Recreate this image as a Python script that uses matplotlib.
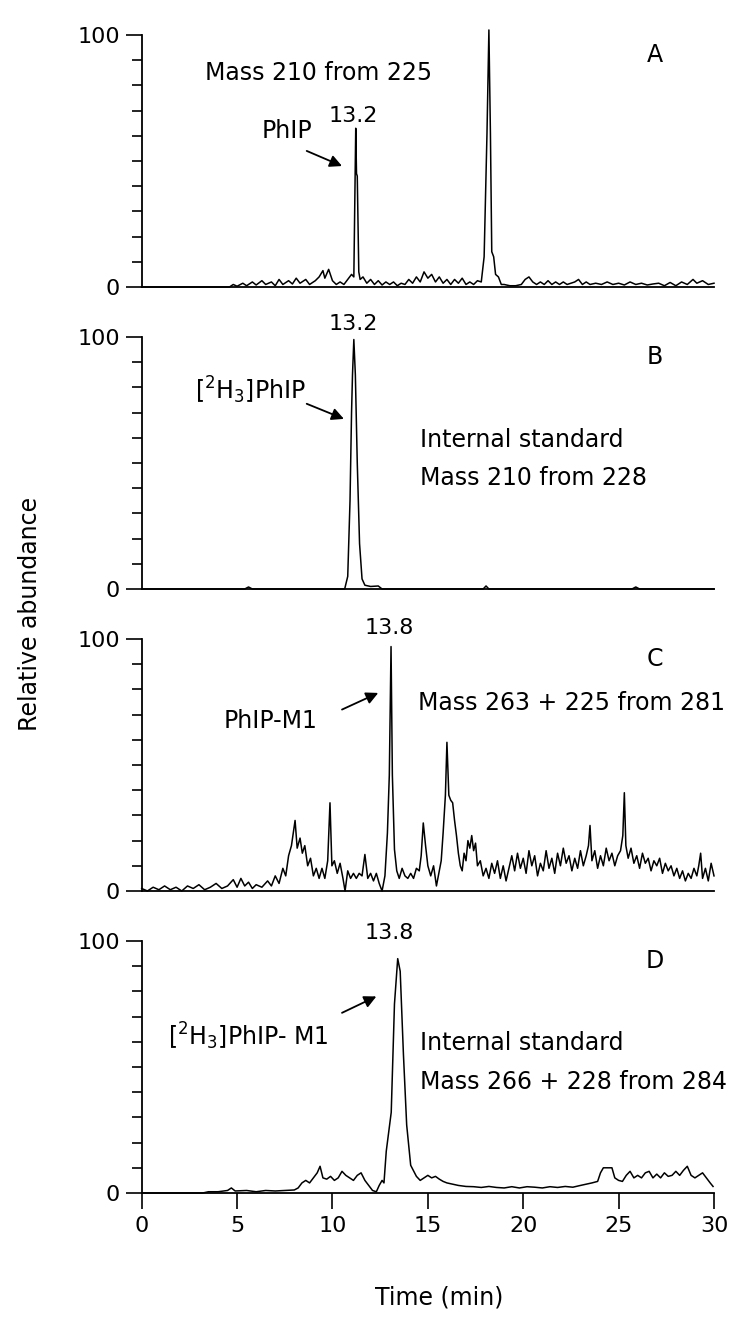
import numpy as np
import matplotlib.pyplot as plt
from matplotlib.ticker import MultipleLocator, FixedLocator

plt.rcParams["font.family"] = ["DejaVu Sans"]

# Selected-reaction chromatograms, (retention time min, relative abundance %)
trace_a = [(0, 0), (4.6, 0), (4.8, 1), (5.0, 0.3), (5.3, 1.5), (5.5, 0.5), (5.8, 2), (6.0, 0.8),
           (6.3, 2.5), (6.5, 1), (6.8, 2), (7.0, 0.5), (7.2, 3), (7.4, 1), (7.7, 2.5), (7.9, 1.2),
           (8.1, 3.5), (8.3, 1.5), (8.6, 3), (8.8, 1), (9.1, 2.5), (9.3, 4), (9.5, 6.5), (9.6, 3.5),
           (9.8, 7), (10.0, 2.5), (10.2, 1), (10.4, 2), (10.6, 1), (10.8, 3), (11.0, 5),
           (11.12, 4), (11.22, 63), (11.26, 45), (11.30, 44), (11.38, 6), (11.45, 3), (11.6, 4),
           (11.8, 1.5), (12.0, 3), (12.2, 1), (12.4, 2.5), (12.6, 0.8), (12.8, 2), (13.0, 1),
           (13.2, 2), (13.4, 0.5), (13.6, 1.5), (13.8, 1), (14.0, 3), (14.2, 1.5), (14.4, 4),
           (14.6, 2), (14.8, 6), (15.0, 3.5), (15.2, 5), (15.4, 2), (15.6, 4), (15.8, 1.5),
           (16.0, 3), (16.2, 1), (16.4, 3), (16.6, 1.5), (16.8, 3.5), (17.0, 1), (17.2, 2),
           (17.4, 1), (17.6, 2.5), (17.8, 2), (17.95, 12), (18.1, 61), (18.2, 102), (18.28, 61),
           (18.35, 14), (18.45, 12), (18.55, 5), (18.7, 4), (18.85, 1), (19.0, 1), (19.3, 0.5),
           (19.6, 0.5), (19.9, 1), (20.1, 3), (20.3, 4), (20.5, 2), (20.7, 1), (20.9, 2),
           (21.1, 1), (21.3, 2.5), (21.5, 1), (21.7, 2), (21.9, 1), (22.1, 2), (22.3, 1),
           (22.5, 1.5), (22.7, 2), (22.9, 3), (23.1, 1), (23.3, 2), (23.5, 1), (23.8, 1.5),
           (24.1, 1), (24.4, 2), (24.7, 1), (25.0, 1.5), (25.3, 0.8), (25.6, 2), (25.9, 1),
           (26.2, 1.5), (26.5, 0.8), (26.8, 1.2), (27.1, 1.5), (27.4, 0.5), (27.7, 1.8),
           (28.0, 0.5), (28.3, 2), (28.6, 1), (28.9, 3), (29.1, 1.5), (29.4, 2.5), (29.7, 1),
           (30.0, 1.5)]

trace_b = [(0, 0), (5.4, 0), (5.6, 0.8), (5.8, 0), (10.64, 0), (10.8, 5), (10.92, 35),
           (11.0, 70), (11.05, 85), (11.12, 99), (11.2, 85), (11.3, 50), (11.42, 18),
           (11.55, 4), (11.7, 1.5), (12.0, 1), (12.4, 1.2), (12.6, 0), (17.9, 0), (18.05, 1.2),
           (18.2, 0), (25.7, 0), (25.9, 0.8), (26.1, 0), (30.0, 0)]

trace_c = [(0.0, 1), (0.3, 0), (0.6, 1.5), (0.9, 0.5), (1.2, 2), (1.5, 0.5), (1.8, 1.5),
           (2.1, 0), (2.4, 2), (2.7, 1), (3.0, 2.5), (3.3, 0.5), (3.6, 1.5), (3.9, 3), (4.2, 1),
           (4.5, 2), (4.8, 4.5), (5.0, 1.5), (5.2, 5), (5.4, 2), (5.6, 3.5), (5.8, 1), (6.0, 2.5),
           (6.3, 1.5), (6.6, 4), (6.8, 2), (7.0, 6), (7.2, 3), (7.4, 9), (7.55, 6), (7.7, 14),
           (7.85, 18), (8.04, 28), (8.15, 17), (8.3, 21), (8.42, 15), (8.55, 18), (8.7, 10),
           (8.85, 13), (9.0, 6), (9.15, 9), (9.3, 5), (9.45, 9), (9.6, 5), (9.75, 12),
           (9.87, 35), (9.97, 10), (10.1, 12), (10.25, 7), (10.4, 11), (10.55, 5), (10.66, 0),
           (10.8, 8), (10.95, 5), (11.1, 7), (11.25, 5), (11.4, 7), (11.55, 6), (11.7, 14.5),
           (11.85, 5), (12.0, 7), (12.15, 4), (12.3, 7), (12.45, 3), (12.6, 0), (12.75, 6),
           (12.88, 23), (12.98, 46), (13.07, 97), (13.14, 46), (13.25, 16.5), (13.37, 8),
           (13.5, 5), (13.65, 9), (13.8, 6), (13.95, 5), (14.1, 7), (14.25, 5), (14.4, 9),
           (14.55, 8), (14.65, 14), (14.76, 27), (14.88, 18), (15.0, 10), (15.15, 6), (15.3, 10),
           (15.45, 2), (15.6, 8), (15.7, 12), (15.8, 23), (15.92, 38), (16.0, 59),
           (16.1, 38), (16.2, 36), (16.3, 35), (16.4, 28), (16.5, 22), (16.6, 15), (16.7, 10),
           (16.8, 8), (16.9, 15), (17.0, 12), (17.1, 20), (17.2, 17), (17.3, 22), (17.4, 16),
           (17.5, 19), (17.6, 10), (17.75, 12), (17.9, 6), (18.05, 9), (18.2, 5), (18.35, 11),
           (18.5, 7), (18.65, 12), (18.8, 5), (18.95, 10), (19.1, 4), (19.25, 9), (19.4, 14),
           (19.55, 8), (19.7, 15), (19.85, 9), (20.0, 13), (20.15, 7), (20.3, 16), (20.45, 10),
           (20.6, 14), (20.75, 6), (20.9, 11), (21.05, 8), (21.2, 16), (21.35, 9), (21.5, 13),
           (21.65, 7), (21.8, 15), (21.95, 10), (22.1, 17), (22.25, 11), (22.4, 14), (22.55, 8),
           (22.7, 13), (22.85, 9), (23.0, 16), (23.15, 10), (23.3, 14), (23.42, 18), (23.5, 26),
           (23.6, 12), (23.75, 16), (23.9, 9), (24.05, 14), (24.2, 10), (24.35, 17), (24.5, 12),
           (24.65, 15), (24.8, 10), (24.95, 14), (25.1, 16), (25.22, 22), (25.3, 39),
           (25.38, 18), (25.5, 13), (25.65, 17), (25.8, 11), (25.95, 14), (26.1, 9), (26.25, 15),
           (26.4, 11), (26.55, 13), (26.7, 8), (26.85, 12), (27.0, 10), (27.15, 13), (27.3, 7),
           (27.45, 11), (27.6, 8), (27.75, 10), (27.9, 6), (28.05, 9), (28.2, 5), (28.35, 8),
           (28.5, 4), (28.65, 7), (28.8, 5), (28.95, 9), (29.1, 6), (29.2, 10), (29.3, 15),
           (29.4, 5), (29.55, 9), (29.7, 4), (29.85, 11), (30.0, 6)]

trace_d = [(0, 0), (3.2, 0), (3.5, 0.5), (4.0, 0.5), (4.5, 1), (4.7, 2), (4.9, 0.8), (5.5, 1),
           (6.0, 0.5), (6.5, 1), (7.0, 0.8), (7.5, 1), (8.0, 1.2), (8.2, 2), (8.4, 4), (8.6, 5),
           (8.8, 4), (9.0, 6), (9.2, 8), (9.35, 10.6), (9.5, 6), (9.7, 5.5), (9.9, 6.6),
           (10.1, 5), (10.3, 6), (10.5, 8.6), (10.7, 7), (10.9, 6), (11.1, 5), (11.3, 7),
           (11.5, 8), (11.7, 5), (11.9, 3), (12.1, 1), (12.3, 0.5), (12.45, 3), (12.6, 5),
           (12.7, 4), (12.82, 16.6), (13.08, 32), (13.25, 75), (13.42, 93), (13.55, 88),
           (13.72, 55), (13.89, 27), (14.1, 11), (14.4, 6.6), (14.6, 5), (14.8, 6), (15.0, 7),
           (15.2, 6), (15.4, 6.6), (15.6, 5.5), (15.8, 4.6), (16.0, 4), (16.3, 3.5), (16.6, 3),
           (17.0, 2.6), (17.4, 2.5), (17.8, 2.2), (18.2, 2.6), (18.6, 2.2), (19.0, 2),
           (19.4, 2.5), (19.8, 2), (20.2, 2.5), (20.6, 2.3), (21.0, 2), (21.4, 2.5), (21.8, 2.2),
           (22.2, 2.6), (22.6, 2.3), (23.0, 3), (23.3, 3.5), (23.6, 4), (23.9, 4.6),
           (24.05, 8), (24.2, 10), (24.5, 10), (24.65, 10), (24.8, 6), (25.0, 5), (25.2, 4.6),
           (25.4, 7), (25.6, 8.6), (25.8, 6), (26.0, 7), (26.2, 6), (26.4, 8), (26.6, 8.6),
           (26.8, 6), (27.0, 7.5), (27.2, 6), (27.4, 8), (27.6, 6.6), (27.8, 7), (28.0, 8.6),
           (28.2, 7), (28.4, 9), (28.6, 10.6), (28.8, 7), (29.0, 6), (29.2, 7), (29.4, 8),
           (29.6, 6), (29.8, 4), (29.95, 2.6)]

panel_letters = ["A", "B", "C", "D"]
x_ticks = [0, 5, 10, 15, 20, 25, 30]

W, H = 747, 1320
fig = plt.figure(figsize=(W / 100, H / 100), dpi=100)
fig.patch.set_facecolor("white")

left, width, height = 141.7 / W, 572.3 / W, 252 / H
bottoms = [1 - 287 / H, 1 - 589 / H, 1 - 891 / H, 1 - 1193 / H]
series = [trace_a, trace_b, trace_c, trace_d]

fs = 16
axes = []
for i, trace in enumerate(series):
    t, a = np.array(trace).T
    ax = fig.add_axes([left, bottoms[i], width, height])
    ax.plot(t, a, color="black", lw=1.1, clip_on=False)
    ax.set_xlim(0, 30)
    ax.set_ylim(0, 100)
    for s in ("top", "right"):
        ax.spines[s].set_visible(False)
    for s in ("left", "bottom"):
        ax.spines[s].set_linewidth(1.3)
    ax.yaxis.set_major_locator(FixedLocator([0, 100]))
    ax.yaxis.set_minor_locator(MultipleLocator(10))
    ax.set_yticklabels(["0", "100"], fontsize=fs)
    ax.tick_params(axis="y", which="major", length=11.5, width=1.2, pad=4)
    ax.tick_params(axis="y", which="minor", length=7, width=1.2)
    if i < 3:
        ax.set_xticks([])
    else:
        ax.set_xticks(x_ticks)
        ax.set_xticklabels([str(v) for v in x_ticks], fontsize=fs)
        ax.tick_params(axis="x", length=11.5, width=1.2, pad=5)
    ax.text(26.9, 92, panel_letters[i], fontsize=fs + 1, ha="center", va="center")
    axes.append(ax)

arrow = dict(arrowstyle="-|>", color="black", lw=1.3, mutation_scale=18,
             shrinkA=0, shrinkB=0)

# A: PhIP
ax = axes[0]
ax.text(3.3, 85, "Mass 210 from 225", fontsize=fs + 1, ha="left", va="center")
ax.text(7.6, 62, "PhIP", fontsize=fs + 1, ha="center", va="center")
ax.text(11.1, 68, "13.2", fontsize=fs, ha="center", va="center")
ax.annotate("", xy=(10.5, 48), xytext=(8.65, 54), arrowprops=arrow)

# B: deuterated internal standard
ax = axes[1]
ax.text(11.1, 105, "13.2", fontsize=fs, ha="center", va="center", clip_on=False)
ax.text(2.8, 79, r"[$^2$H$_3$]PhIP", fontsize=fs + 1, ha="left", va="center")
ax.annotate("", xy=(10.6, 67.5), xytext=(8.65, 73.5), arrowprops=arrow)
ax.text(14.6, 59, "Internal standard", fontsize=fs + 1, ha="left", va="center")
ax.text(14.6, 44, "Mass 210 from 228", fontsize=fs + 1, ha="left", va="center")

# C: PhIP-M1
ax = axes[2]
ax.text(13.0, 104.5, "13.8", fontsize=fs, ha="center", va="center", clip_on=False)
ax.text(4.3, 67.5, "PhIP-M1", fontsize=fs + 1, ha="left", va="center")
ax.annotate("", xy=(12.4, 78.6), xytext=(10.5, 72), arrowprops=arrow)
ax.text(14.5, 74.7, "Mass 263 + 225 from 281", fontsize=fs + 1, ha="left", va="center")

# D: deuterated PhIP-M1
ax = axes[3]
ax.text(13.0, 103, "13.8", fontsize=fs, ha="center", va="center", clip_on=False)
ax.text(1.4, 62, r"[$^2$H$_3$]PhIP- M1", fontsize=fs + 1, ha="left", va="center")
ax.annotate("", xy=(12.3, 78), xytext=(10.5, 71.5), arrowprops=arrow)
ax.text(14.6, 59.6, "Internal standard", fontsize=fs + 1, ha="left", va="center")
ax.text(14.6, 44, "Mass 266 + 228 from 284", fontsize=fs + 1, ha="left", va="center",
        clip_on=False)

fig.text(30 / W, 1 - 614 / H, "Relative abundance", rotation=90, fontsize=fs + 1,
         ha="center", va="center")
fig.text(439 / W, 1 - 1297 / H, "Time (min)", fontsize=fs + 1, ha="center", va="center")

fig.savefig("out.png", dpi=100, facecolor="white")
